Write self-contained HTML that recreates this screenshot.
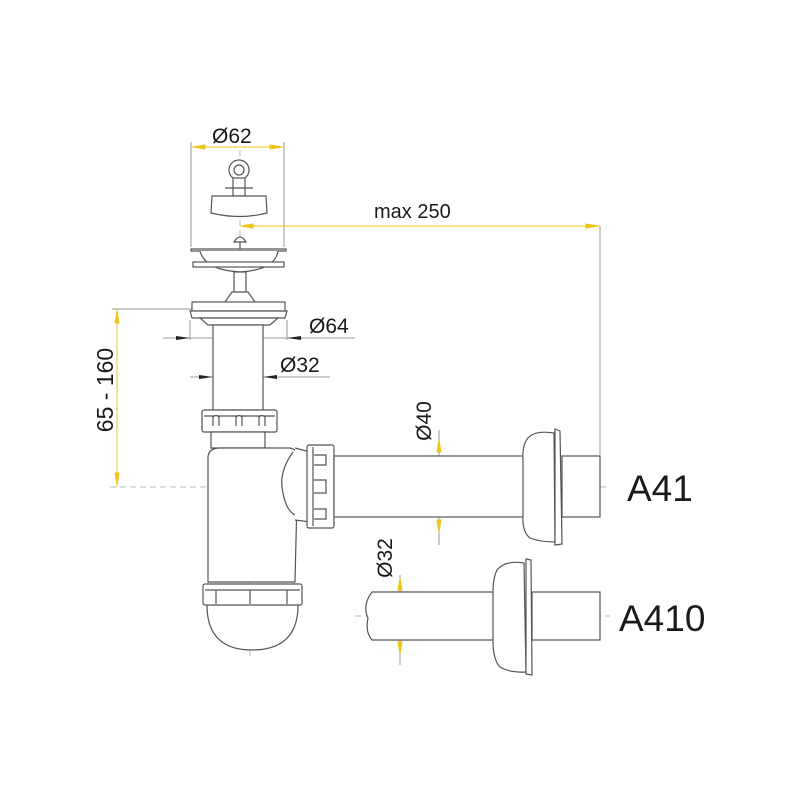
<!DOCTYPE html>
<html><head><meta charset="utf-8"><style>
html,body{margin:0;padding:0;background:#fff;}
svg{display:block;}
text{font-family:"Liberation Sans",sans-serif;fill:#1a1a1a;}
</style></head><body>
<svg width="800" height="800" viewBox="0 0 800 800" xmlns="http://www.w3.org/2000/svg">
<rect width="800" height="800" fill="#fff"/>
<g fill="none" stroke="#bbb" stroke-width="1" stroke-dasharray="6,4">
  <line x1="240" y1="150" x2="240" y2="440"/>
  <line x1="250" y1="460" x2="250" y2="660"/>
  <line x1="110" y1="487" x2="610" y2="487"/>
  <line x1="355" y1="616" x2="610" y2="616"/>
</g>
<g stroke="#999" stroke-width="1" fill="none">
  <line x1="191" y1="142" x2="191" y2="247"/>
  <line x1="284" y1="142" x2="284" y2="247"/>
  <line x1="600" y1="226" x2="600" y2="455"/>
  <line x1="112" y1="309" x2="195" y2="309"/>
  <line x1="163" y1="338" x2="355" y2="338"/>
  <line x1="190" y1="320" x2="190" y2="340"/>
  <line x1="287" y1="320" x2="287" y2="340"/>
  <line x1="190" y1="377" x2="330" y2="377"/>
  <line x1="439" y1="430" x2="439" y2="545"/>
  <line x1="400" y1="575" x2="400" y2="665"/>
</g>
<g stroke="#f0c419" stroke-width="1" fill="#f0c419">
  <line x1="191" y1="147" x2="284" y2="147"/>
  <polygon points="193,147 205,145 205,149"/><polygon points="282,147 270,145 270,149"/>
  <line x1="240" y1="226" x2="600" y2="226"/>
  <polygon points="241,226 253,224 253,228"/><polygon points="598,226 586,224 586,228"/>
  <line x1="117" y1="309" x2="117" y2="487"/>
  <polygon points="117,311 115,323 119,323"/><polygon points="117,485 115,473 119,473"/>
  <polygon points="439,440 437,452 441,452"/><polygon points="439,532 437,520 441,520"/>
  <polygon points="400,578 398,590 402,590"/><polygon points="400,654 398,642 402,642"/>
</g>
<g fill="#222">
  <polygon points="190,338 176,336 176,340"/><polygon points="287,338 301,336 301,340"/>
  <polygon points="213,377 199,375 199,379"/><polygon points="263,377 277,375 277,379"/>
</g>
<g stroke="#555" stroke-width="1.2" fill="#fff">
  <circle cx="239" cy="170" r="10"/>
  <circle cx="239" cy="170" r="5"/>
  <rect x="233" y="178" width="12" height="18"/>
  <line x1="225" y1="188" x2="253" y2="188"/>
  <path d="M212,196 L266,196 L267,213 Q240,220 211,213 Z"/>
  <path d="M234,242 Q240,232 246,242 Z"/>
  <line x1="240" y1="242" x2="240" y2="250"/>
  <path d="M191,249 L286,249 L286,251 L191,251 Z"/>
  <path d="M200,251 Q205,270 240,272 Q275,270 278,251"/>
  <rect x="193" y="262" width="91" height="5"/>
  <rect x="234" y="272" width="12" height="22"/>
  <path d="M225,302 L232,292 L248,292 L255,302"/>
  <rect x="192" y="302" width="93" height="9"/>
  <path d="M190,311 L287,311 L285,318 L192,318 Z"/>
  <path d="M200,318 L278,318 L270,325 L208,325 Z"/>
  <rect x="213" y="325" width="50" height="85"/>
  <rect x="202" y="410" width="75" height="22" rx="2"/>
  <line x1="204" y1="416" x2="275" y2="416"/>
  <path d="M213,426 L213,417 Q216,414 219,417 L219,426"/>
  <path d="M236,426 L236,417 Q239,414 242,417 L242,426"/>
  <path d="M259,426 L259,417 Q262,414 265,417 L265,426"/>
  <rect x="211" y="432" width="54" height="16"/>
  <path d="M208,582 L208,458 Q208,448 220,448 L290,448 Q298,450 298,456 L295,582 Z"/>
  <path d="M293,452 Q280,470 282,487 Q285,510 295,515"/>
  <path d="M295,448 L310,452 L310,522 L295,520"/>
  <path d="M207,605 Q207,650 252,650 Q298,650 298,605"/>
  <rect x="203" y="584" width="99" height="21" rx="2"/>
  <line x1="205" y1="590" x2="300" y2="590"/>
  <line x1="216" y1="590" x2="216" y2="604"/>
  <line x1="250" y1="590" x2="250" y2="604"/>
  <line x1="287" y1="590" x2="287" y2="604"/>
  <rect x="307" y="445" width="27" height="83" rx="2"/>
  <line x1="313" y1="447" x2="313" y2="526"/>
  <path d="M314,455 L326,455 L326,465 L314,465"/>
  <path d="M314,480 L326,480 L326,493 L314,493"/>
  <path d="M314,509 L326,509 L326,519 L314,519"/>
  <rect x="334" y="456" width="190" height="61"/>
  <path d="M554,433 Q535,430 528,438 Q522,445 523,460 L523,515 Q522,532 530,538 Q540,542 555,542 Z"/>
  <path d="M555,429 L560,431 L562,544 L555,545 Z"/>
  <rect x="562" y="456" width="38" height="61"/>
  <path d="M372,592 L494,592 L494,640 L372,640 Q365,632 368,618 Q362,605 372,592 Z"/>
  <path d="M524,563 Q505,560 497,570 Q493,578 493,592 L493,640 Q493,660 500,667 Q510,673 526,672 Z"/>
  <path d="M526,559 L531,560 L532,675 L526,674 Z"/>
  <rect x="532" y="592" width="68" height="48"/>
</g>
<text x="212" y="143" font-size="21">Ø62</text>
<text x="374" y="218" font-size="20">max 250</text>
<text x="309" y="333" font-size="21">Ø64</text>
<text x="280" y="372" font-size="21">Ø32</text>
<text font-size="23" transform="translate(113,390) rotate(-90)" text-anchor="middle">65 - 160</text>
<text font-size="21" transform="translate(431,421) rotate(-90)" text-anchor="middle">Ø40</text>
<text font-size="21" transform="translate(392,558) rotate(-90)" text-anchor="middle">Ø32</text>
<text x="627" y="501" font-size="37">A41</text>
<text x="619" y="631" font-size="37">A410</text>
</svg>
</body></html>
